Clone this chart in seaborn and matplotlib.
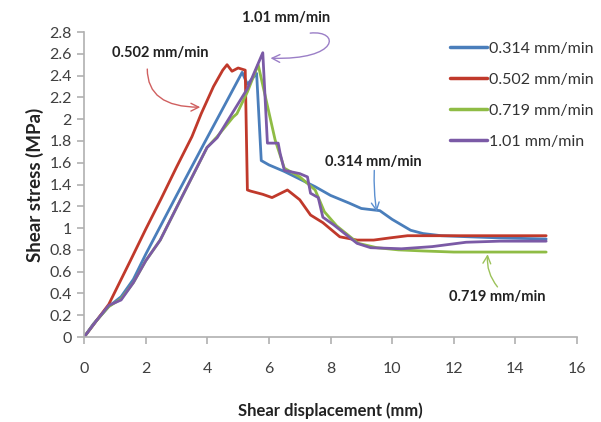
import numpy as np
import pandas as pd
import matplotlib
matplotlib.use("Agg")
import matplotlib.pyplot as plt
from matplotlib.path import Path
from matplotlib.patches import FancyArrowPatch
import seaborn as sns

# ---- data ----
series_names = ["0.314 mm/min", "0.502 mm/min", "0.719 mm/min", "1.01 mm/min"]

x_0314 = [0, 0.3, 0.8, 1.2, 1.6, 2.0, 2.24, 3.0, 3.9, 4.64, 5.13, 5.3, 5.6, 5.75, 6.0, 6.5, 7.0, 7.5,
          8.0, 8.6, 9.0, 9.6, 10.0, 10.6, 11.0, 11.6, 12.5, 13.5, 15.0]
y_0314 = [0, 0.12, 0.28, 0.37, 0.53, 0.76, 0.89, 1.3, 1.78, 2.17, 2.43, 2.32, 2.42, 1.62, 1.58, 1.52,
          1.45, 1.38, 1.3, 1.23, 1.18, 1.16, 1.08, 0.98, 0.95, 0.93, 0.92, 0.91, 0.9]

x_0502 = [0, 0.4, 0.8, 1.5, 2.0, 2.5, 3.0, 3.5, 3.8, 4.2, 4.5, 4.64, 4.8, 5.0, 5.23, 5.3, 5.4, 5.8, 6.1,
          6.6, 7.0, 7.35, 7.75, 8.3, 8.86, 9.4, 9.93, 10.5, 12.0, 15.0]
y_0502 = [0, 0.15, 0.3, 0.7, 0.99, 1.27, 1.56, 1.84, 2.05, 2.3, 2.45, 2.5, 2.44, 2.47, 2.45, 1.35, 1.34,
          1.31, 1.28, 1.35, 1.26, 1.12, 1.05, 0.92, 0.89, 0.89, 0.91, 0.93, 0.93, 0.93]

x_0719 = [0, 0.4, 0.8, 1.2, 1.6, 2.0, 2.47, 3.2, 3.99, 4.32, 4.84, 4.96, 5.3, 5.65, 6.2, 6.5, 7.0, 7.5,
          7.8, 8.2, 8.9, 9.5, 10.2, 11.0, 12.0, 13.0, 15.0]
y_0719 = [0, 0.15, 0.28, 0.35, 0.5, 0.7, 0.89, 1.3, 1.74, 1.84, 2.02, 2.05, 2.25, 2.5, 1.81, 1.55,
          1.47, 1.35, 1.15, 1.02, 0.86, 0.82, 0.8, 0.79, 0.78, 0.78, 0.78]

x_101 = [0, 0.4, 0.8, 1.2, 1.6, 2.0, 2.47, 3.2, 3.99, 4.32, 5.06, 5.3, 5.8, 5.95, 6.3, 6.36, 6.5, 7.0,
         7.25, 7.35, 7.6, 7.75, 8.1, 8.86, 9.3, 10.3, 11.3, 12.4, 13.5, 15.0]
y_101 = [0, 0.15, 0.29, 0.34, 0.5, 0.7, 0.89, 1.3, 1.74, 1.83, 2.17, 2.28, 2.61, 1.78, 1.78, 1.69,
         1.53, 1.5, 1.47, 1.32, 1.28, 1.1, 1.03, 0.86, 0.82, 0.81, 0.83, 0.87, 0.88, 0.88]

x_ticks = [0, 2, 4, 6, 8, 10, 12, 14, 16]
y_ticks = [0, 0.2, 0.4, 0.6, 0.8, 1, 1.2, 1.4, 1.6, 1.8, 2, 2.2, 2.4, 2.6, 2.8]
y_tick_labels = ["0", "0.2", "0.4", "0.6", "0.8", "1", "1.2", "1.4", "1.6", "1.8", "2", "2.2", "2.4",
                 "2.6", "2.8"]

colors = ["#4a7ebb", "#c0392b", "#8fbc45", "#7b5aa6"]

frames = []
for name, xs, ys in zip(series_names, [x_0314, x_0502, x_0719, x_101], [y_0314, y_0502, y_0719, y_101]):
    frames.append(pd.DataFrame({"x": xs, "y": ys, "series": name}))
df = pd.concat(frames, ignore_index=True)

sns.set_style("white")
plt.rcParams["font.family"] = ["Lato", "DejaVu Sans"]

fig = plt.figure(figsize=(6.01, 4.22), dpi=100)
ax = fig.add_axes([0.14, 0.2014, 0.82, 0.7227])

sns.lineplot(data=df, x="x", y="y", hue="series", hue_order=series_names, palette=colors,
             sort=False, estimator=None, units="series", linewidth=2.0, ax=ax, legend=True)

ax.set_xlim(0, 16)
ax.set_ylim(0, 2.8)
ax.set_xticks(x_ticks)
ax.set_xticklabels([str(t) for t in x_ticks])
ax.set_yticks(y_ticks)
ax.set_yticklabels(y_tick_labels)

for s in ["top", "right"]:
    ax.spines[s].set_visible(False)
for s in ["left", "bottom"]:
    ax.spines[s].set_color("#b0b0b0")
    ax.spines[s].set_linewidth(1.2)

ax.tick_params(axis="x", direction="out", length=5, width=1.2, color="#b0b0b0",
               labelsize=11.5, labelcolor="#404040", pad=13, bottom=True)
ax.tick_params(axis="y", direction="out", length=5, width=1.2, color="#b0b0b0",
               labelsize=11.5, labelcolor="#404040", pad=4, left=True)

ax.set_xlabel("Shear displacement (mm)", fontsize=12, fontweight="bold", color="#222222", labelpad=19)
ax.set_ylabel("Shear stress (MPa)", fontsize=13.5, fontweight="bold", color="#222222", labelpad=4)

leg = ax.legend(loc="upper left", bbox_to_anchor=(0.73, 0.99), frameon=False, fontsize=11.5,
                handlelength=2.3, handletextpad=0.1, labelspacing=1.05, borderaxespad=0)
for t in leg.get_texts():
    t.set_color("#333333")
for h in leg.get_lines():
    h.set_linewidth(2.5)

# annotations
ax.text(2.47, 2.61, "0.502 mm/min", fontsize=10.5, fontweight="bold", ha="center", va="center",
        color="#222222")
ax.annotate("", xy=(3.77, 2.11), xytext=(2.05, 2.46),
            arrowprops=dict(arrowstyle="->", color="#d06060", lw=1.0, shrinkA=0, shrinkB=0,
                            connectionstyle="angle3,angleA=90,angleB=0", mutation_scale=14))

ax.text(6.55, 2.93, "1.01 mm/min", fontsize=10.5, fontweight="bold", ha="center", va="center",
        color="#222222", clip_on=False)
hook = Path([(7.34, 2.79), (8.31, 2.82), (8.31, 2.54), (6.05, 2.56)],
            [Path.MOVETO, Path.CURVE4, Path.CURVE4, Path.CURVE4])
arr = FancyArrowPatch(path=hook, arrowstyle="->", color="#9b7fc7", lw=1.0, mutation_scale=14,
                      transform=ax.transData, clip_on=False)
ax.add_patch(arr)

ax.text(9.38, 1.61, "0.314 mm/min", fontsize=10.5, fontweight="bold", ha="center", va="center",
        color="#222222")
ax.annotate("", xy=(9.5, 1.15), xytext=(9.42, 1.53),
            arrowprops=dict(arrowstyle="->", color="#5b8fd0", lw=1.0, shrinkA=0, shrinkB=0,
                            connectionstyle="arc3,rad=0.05", mutation_scale=14))

ax.text(13.4, 0.37, "0.719 mm/min", fontsize=10.5, fontweight="bold", ha="center", va="center",
        color="#222222")
ax.annotate("", xy=(13.1, 0.76), xytext=(13.42, 0.46),
            arrowprops=dict(arrowstyle="->", color="#9cc25a", lw=1.0, shrinkA=0, shrinkB=0,
                            connectionstyle="arc3,rad=-0.2", mutation_scale=14))

fig.savefig("out.png", dpi=100, facecolor="white")
